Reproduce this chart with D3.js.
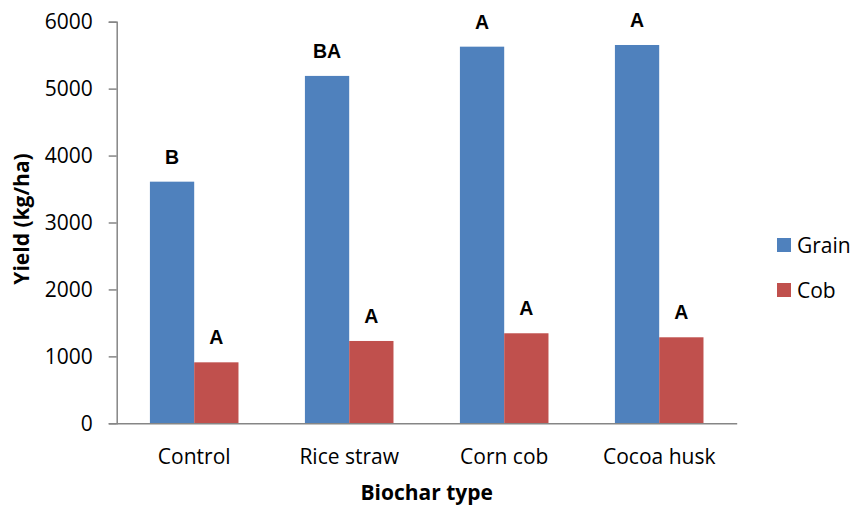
<!DOCTYPE html>
<html>
<head>
<meta charset="utf-8">
<script src="https://cdn.jsdelivr.net/npm/d3@7"></script>
<style>
body { margin: 0; background: #fff; }
.axis text { font-family: "Open Sans", sans-serif; font-size: 21px; fill: #000; }
.axis path, .axis line { stroke: #868686; stroke-width: 1.5; }
</style>
</head>
<body>
<script>
var categories = ["Control", "Rice straw", "Corn cob", "Cocoa husk"];
var seriesNames = ["Grain", "Cob"];
var grain = [3610, 5190, 5627, 5652];
var cob = [911, 1230, 1345, 1285];
var grainLetters = ["B", "BA", "A", "A"];
var cobLetters = ["A", "A", "A", "A"];
var yTicks = [0, 1000, 2000, 3000, 4000, 5000, 6000];
var colors = ["#4F81BD", "#C0504D"];

var width = 854, height = 506;
var margin = {top: 21.7, right: 117.3, bottom: 82.7, left: 116.7};
var w = width - margin.left - margin.right,
    h = height - margin.top - margin.bottom;

var svg = d3.select("body").append("svg").attr("width", width).attr("height", height);
var g = svg.append("g").attr("transform", "translate(" + margin.left + "," + margin.top + ")");

var x = d3.scaleBand().domain(categories).range([0, w]).paddingInner(1.5 / 3.5).paddingOuter(0.75 / 3.5);
var xs = d3.scaleBand().domain(seriesNames).range([0, x.bandwidth()]);
var y = d3.scaleLinear().domain([0, 6000]).range([h, 0]);

// y axis
var yAxis = g.append("g").attr("class", "axis")
  .call(d3.axisLeft(y).tickValues(yTicks).tickSize(8).tickPadding(16).tickFormat(d3.format("d")));

// bars
var rows = categories.map(function(c, i) {
  return {cat: c, vals: [
    {s: "Grain", v: grain[i], lab: grainLetters[i]},
    {s: "Cob", v: cob[i], lab: cobLetters[i]}
  ]};
});

var groups = g.selectAll(".grp").data(rows).enter().append("g")
  .attr("class", "grp")
  .attr("transform", function(d) { return "translate(" + x(d.cat) + ",0)"; });

groups.selectAll("rect").data(function(d) { return d.vals; }).enter().append("rect")
  .attr("x", function(d) { return xs(d.s); })
  .attr("y", function(d) { return y(d.v); })
  .attr("width", xs.bandwidth())
  .attr("height", function(d) { return h - y(d.v); })
  .attr("fill", function(d, i) { return colors[i]; });

groups.selectAll("text.sig").data(function(d) { return d.vals; }).enter().append("text")
  .attr("class", "sig")
  .attr("x", function(d) { return xs(d.s) + xs.bandwidth() / 2; })
  .attr("y", function(d) { return y(d.v) - 18; })
  .attr("text-anchor", "middle")
  .style("font-family", "'Liberation Sans', Arial, sans-serif")
  .style("font-weight", "bold")
  .style("font-size", "19.5px")
  .text(function(d) { return d.lab; });

// x axis
var xAxis = g.append("g").attr("class", "axis")
  .attr("transform", "translate(0," + h + ")")
  .call(d3.axisBottom(x).tickSize(0).tickPadding(24));
xAxis.selectAll("text").attr("dy", 0).attr("y", 41);

// axis titles
svg.append("text")
  .attr("transform", "translate(29," + 219 + ") rotate(-90)")
  .attr("text-anchor", "middle")
  .style("font-family", "'Open Sans', sans-serif")
  .style("font-weight", "bold")
  .style("font-size", "21px")
  .text("Yield (kg/ha)");

svg.append("text")
  .attr("x", margin.left + w / 2)
  .attr("y", 500)
  .attr("text-anchor", "middle")
  .style("font-family", "'Open Sans', sans-serif")
  .style("font-weight", "bold")
  .style("font-size", "21px")
  .text("Biochar type");

// legend
var legend = svg.selectAll(".leg").data(seriesNames).enter().append("g")
  .attr("class", "leg")
  .attr("transform", function(d, i) { return "translate(777," + (238 + i * 45) + ")"; });
legend.append("rect").attr("width", 14).attr("height", 14)
  .attr("fill", function(d, i) { return colors[i]; });
legend.append("text").attr("x", 20).attr("y", 14.5)
  .style("font-family", "'Open Sans', sans-serif")
  .style("font-size", "21px")
  .text(function(d) { return d; });
</script>
</body>
</html>
